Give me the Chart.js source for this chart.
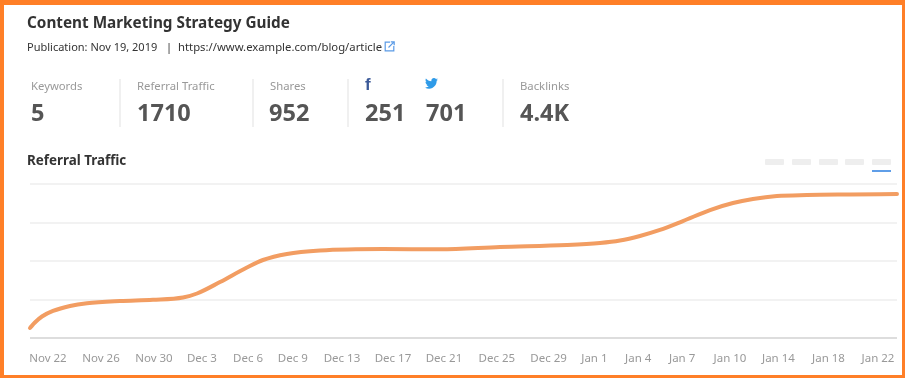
<!DOCTYPE html>
<html>
<head>
<meta charset="utf-8">
<script src="https://cdn.jsdelivr.net/npm/chart.js@4"></script>
<style>
html,body{margin:0;padding:0;background:#fff}
#page{position:relative;width:905px;height:378px;overflow:hidden;font-family:"Noto Sans",sans-serif;background:#fff}
#frame{position:absolute;left:0;top:0;right:3px;bottom:3px;border:solid #ff7f27;border-width:5px 0 0 4px;pointer-events:none;z-index:3}
#frameR{position:absolute;left:902px;top:0;width:3px;height:378px;background:#ff7f27;z-index:3}
#frameB{position:absolute;left:0;top:375px;width:905px;height:3px;background:#ff7f27;z-index:3}
canvas{position:absolute;left:0;top:0}
.t{position:absolute;white-space:nowrap;line-height:1}
.lab{font-size:11.3px;color:#999}
.num{font-size:23.5px;font-weight:700;color:#555}
.div{position:absolute;top:79px;width:2px;height:48px;background:#f0f0f0}
.pill{position:absolute;top:159px;width:19px;height:6px;background:#eee;border-radius:1px}
</style>
</head>
<body>
<div id="page">
  <canvas id="c" width="905" height="378"></canvas>
  <div id="frame"></div><div id="frameR"></div><div id="frameB"></div>

  <div class="t" style="left:27px;top:15px;font-size:15.3px;font-weight:700;color:#333">Content Marketing Strategy Guide</div>
  <div class="t" style="left:27px;top:41px;font-size:11px;color:#333">Publication: Nov 19, 2019</div>
  <div class="t" style="left:166px;top:41px;font-size:11px;color:#333">|</div>
  <div class="t" style="left:178px;top:41px;font-size:11.3px;color:#333">https://www.example.com/blog/article</div>
  <svg style="position:absolute;left:384px;top:41px" width="11" height="11" viewBox="0 0 11 11" fill="none" stroke="#5b9be6" stroke-width="1.2">
    <path d="M6 1.2H1.2v8.6h8.6V5"/><path d="M4.500 6.500L9.800 1.200M6.800 0.800h3.400v3.400"/>
  </svg>

  <div class="t lab" style="left:31px;top:80px">Keywords</div>
  <div class="t num" style="left:31px;top:101px">5</div>
  <div class="div" style="left:119px"></div>
  <div class="t lab" style="left:137px;top:80px">Referral Traffic</div>
  <div class="t num" style="left:137px;top:101px">1710</div>
  <div class="div" style="left:252px"></div>
  <div class="t lab" style="left:270px;top:80px">Shares</div>
  <div class="t num" style="left:269px;top:101px">952</div>
  <div class="div" style="left:347px"></div>
  <div class="t" style="left:365px;top:76px;font-size:17px;font-weight:700;color:#3b5998;font-family:'Liberation Sans',sans-serif">f</div>
  <svg style="position:absolute;left:425px;top:78px" width="13" height="11" viewBox="0 0 24 20" fill="#2f9be8">
    <path d="M24 2.4c-.9.4-1.800.7-2.800.8 1-.6 1.800-1.600 2.200-2.700-1 .6-2 1-3.100 1.200C19.300.7 18 0 16.600 0c-2.700 0-4.900 2.200-4.900 4.900 0 .4 0 .8.100 1.100C7.700 5.800 4.100 3.900 1.700.9c-.4.700-.7 1.600-.7 2.500 0 1.700.9 3.200 2.200 4.100-.8 0-1.600-.2-2.200-.6v.1c0 2.400 1.700 4.400 3.900 4.800-.4.100-.8.200-1.300.2-.3 0-.6 0-.9-.1.600 2 2.400 3.400 4.600 3.400-1.700 1.300-3.800 2.100-6.100 2.100-.4 0-.8 0-1.200-.1C2.200 18.700 4.800 19.500 7.500 19.500c9.100 0 14-7.500 14-14v-.6c1-.7 1.800-1.600 2.500-2.500z"/>
  </svg>
  <div class="t num" style="left:365px;top:101px">251</div>
  <div class="t num" style="left:426px;top:101px">701</div>
  <div class="div" style="left:502px"></div>
  <div class="t lab" style="left:520px;top:80px">Backlinks</div>
  <div class="t num" style="left:520px;top:101px">4.4K</div>

  <div class="t" style="left:27px;top:154px;font-size:13.4px;font-weight:700;color:#333">Referral Traffic</div>

  <div class="pill" style="left:765px"></div>
  <div class="pill" style="left:792px"></div>
  <div class="pill" style="left:819px"></div>
  <div class="pill" style="left:845px"></div>
  <div class="pill" style="left:872px"></div>
  <div style="position:absolute;left:872px;top:170px;width:19px;height:1.5px;background:#5f9ee8"></div>
</div>

<script>
const tickLabels = ["Nov 22","Nov 26","Nov 30","Dec 3","Dec 6","Dec 9","Dec 13","Dec 17","Dec 21","Dec 25","Dec 29","Jan 1","Jan 4","Jan 7","Jan 10","Jan 14","Jan 18","Jan 22"];
const tickAt = [0,3.9,7.79,11.32,14.71,18,21.62,25.37,29.12,33.01,36.81,40.18,43.4,46.63,50.15,53.71,57.39,61.03];
const dayAt = [-1.32,-0.96,-0.44,0.37,1.62,2.87,5.29,7.72,9.93,10.96,12.65,14.63,15.81,17.57,20,24.63,28.82,33.24,38.16,40.59,42.06,43.53,45,46.69,48.68,50.37,51.84,53.6,55.81,58.97,62.43];
const referralTraffic = [130,201,279,351,416,452,481,496,526,578,727,916,1013,1091,1136,1156,1152,1182,1208,1234,1266,1325,1403,1519,1662,1753,1805,1844,1857,1864,1870];

new Chart(document.getElementById("c"), {
  type: "line",
  data: {
    datasets: [{
      label: "Referral Traffic",
      data: dayAt.map((d, i) => ({ x: d, y: referralTraffic[i] })),
      borderColor: "#f29d62",
      borderWidth: 4,
      borderCapStyle: "round",
      pointRadius: 0,
      cubicInterpolationMode: "monotone",
      fill: false,
      clip: false
    }]
  },
  options: {
    responsive: false,
    animation: false,
    events: [],
    layout: { padding: { left: 30, right: 8, top: 184, bottom: 0 } },
    plugins: { legend: { display: false }, tooltip: { enabled: false } },
    scales: {
      x: {
        type: "linear",
        min: -1.32,
        max: 62.43,
        afterBuildTicks: s => { s.ticks = tickAt.map(v => ({ value: v })); },
        afterFit: s => { s.height = 40; },
        grid: { display: false },
        border: { display: false },
        ticks: {
          autoSkip: false,
          maxRotation: 0,
          minRotation: 0,
          padding: 6,
          color: "#999",
          font: { family: "'Noto Sans'", size: 11.5 },
          callback: (v, i) => tickLabels[i]
        }
      },
      y: {
        min: 0,
        max: 2000,
        afterFit: s => { s.width = 0; },
        border: { display: false },
        ticks: { display: false, stepSize: 500 },
        grid: {
          drawTicks: false,
          lineWidth: c => 2,
          color: c => c.tick.value === 0 ? "#dddddd" : "#f2f2f2"
        }
      }
    }
  }
});
</script>
</body>
</html>
